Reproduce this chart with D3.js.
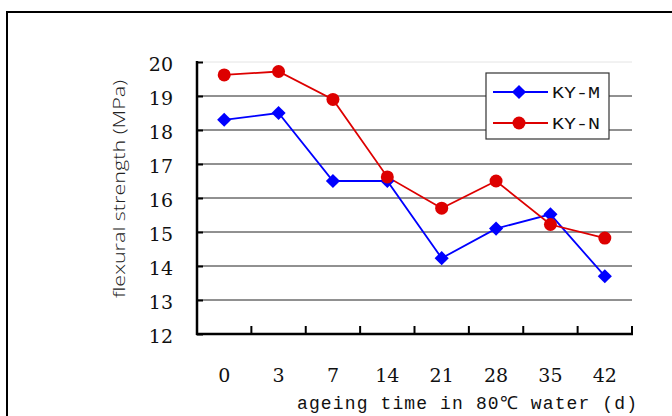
<!DOCTYPE html>
<html lang="en">
<head>
<meta charset="UTF-8">
<title>flexural strength</title>
<script src="https://d3js.org/d3.v7.min.js"></script>
<style>
	* { margin: 0; }
	body { width: 672px; height: 416px; background: #fff; overflow: hidden; }
	svg { display: block; }
</style>
</head>
<body>
<svg id="chart" width="672" height="416"></svg>
<script>
	// data
	const days = ["0", "3", "7", "14", "21", "28", "35", "42"];
	const kyM = [18.3, 18.5, 16.5, 16.5, 14.23, 15.1, 15.52, 13.7];
	const kyN = [19.62, 19.72, 18.9, 16.62, 15.7, 16.5, 15.22, 14.82];
	const yTicks = [12, 13, 14, 15, 16, 17, 18, 19, 20];

	const serif = "DejaVu Serif, serif";
	const mono = "Liberation Mono, DejaVu Sans Mono, monospace";

	const plotL = 197, plotR = 632, plotT = 62, plotB = 334;

	const svg = d3.select("#chart");

	// outer frame (runs off right and bottom)
	svg.append("path")
		.attr("d", "M7,420 V12 H680")
		.attr("fill", "none")
		.attr("stroke", "#000")
		.attr("stroke-width", 2);

	const x = d3.scaleBand().domain(days).range([plotL, plotR]);
	const y = d3.scaleLinear().domain([12, 20]).range([plotB, plotT]);

	// gridlines
	svg.append("g")
		.selectAll("line")
		.data(yTicks.slice(1))
		.join("line")
		.attr("x1", plotL).attr("x2", plotR)
		.attr("y1", d => y(d)).attr("y2", d => y(d))
		.attr("stroke", d => d === 20 ? "#e4e4e4" : "#222")
		.attr("stroke-width", 1);

	// y axis
	const yAxis = svg.append("g")
		.attr("transform", `translate(${plotL},0)`)
		.call(d3.axisRight(y).tickValues(yTicks).tickSize(6).tickFormat(""));
	yAxis.select(".domain").remove();
	yAxis.selectAll("line").attr("stroke", "#000").attr("stroke-width", 2);
	svg.append("line")
		.attr("x1", plotL).attr("x2", plotL)
		.attr("y1", plotT - 1).attr("y2", plotB + 1)
		.attr("stroke", "#000").attr("stroke-width", 2.5);

	svg.append("g")
		.selectAll("text")
		.data(yTicks)
		.join("text")
		.attr("x", 173)
		.attr("y", d => y(d) + 9)
		.attr("text-anchor", "end")
		.attr("font-family", serif)
		.attr("font-size", 19)
		.attr("fill", "#111")
		.text(d => d);

	// x axis with inward ticks at band edges
	const edges = days.map(d => x(d)).concat([plotR]);
	svg.append("g")
		.selectAll("line")
		.data(edges.slice(1))
		.join("line")
		.attr("x1", d => d).attr("x2", d => d)
		.attr("y1", plotB).attr("y2", plotB - 8)
		.attr("stroke", "#000").attr("stroke-width", 2);
	svg.append("line")
		.attr("x1", plotL - 1).attr("x2", plotR + 1)
		.attr("y1", plotB).attr("y2", plotB)
		.attr("stroke", "#000").attr("stroke-width", 2.5);

	svg.append("g")
		.selectAll("text")
		.data(days)
		.join("text")
		.attr("x", d => x(d) + x.bandwidth() / 2)
		.attr("y", 382)
		.attr("text-anchor", "middle")
		.attr("font-family", serif)
		.attr("font-size", 19)
		.attr("fill", "#111")
		.text(d => d);

	// axis titles
	svg.append("text")
		.attr("x", 297)
		.attr("y", 409)
		.attr("font-family", mono)
		.attr("font-size", 18)
		.attr("textLength", 340)
		.attr("lengthAdjust", "spacing")
		.attr("fill", "#111")
		.text("ageing time in 80℃ water (d)");

	svg.append("text")
		.attr("transform", "translate(125,189) rotate(-90)")
		.attr("text-anchor", "middle")
		.attr("font-family", "Open Sans, Noto Sans, sans-serif")
		.attr("font-weight", 300)
		.attr("font-size", 17)
		.attr("textLength", 218)
		.attr("lengthAdjust", "spacingAndGlyphs")
		.attr("fill", "#222")
		.text("flexural strength (MPa)");

	// series
	const cx = d => x(d) + x.bandwidth() / 2;
	const line = d3.line().x((d, i) => cx(days[i])).y(d => y(d));

	svg.append("path")
		.datum(kyM)
		.attr("d", line)
		.attr("fill", "none")
		.attr("stroke", "#0000ff")
		.attr("stroke-width", 1.8);
	svg.append("path")
		.datum(kyN)
		.attr("d", line)
		.attr("fill", "none")
		.attr("stroke", "#dd0000")
		.attr("stroke-width", 1.8);

	const diamond = d3.symbol().type(d3.symbolSquare).size(100);
	svg.append("g")
		.selectAll("path")
		.data(kyM)
		.join("path")
		.attr("d", diamond)
		.attr("transform", (d, i) => `translate(${cx(days[i])},${y(d)}) rotate(45)`)
		.attr("fill", "#0000ff");

	svg.append("g")
		.selectAll("circle")
		.data(kyN)
		.join("circle")
		.attr("cx", (d, i) => cx(days[i]))
		.attr("cy", d => y(d))
		.attr("r", 6.5)
		.attr("fill", "#dd0000");

	// legend
	const lg = svg.append("g");
	lg.append("rect")
		.attr("x", 486).attr("y", 73)
		.attr("width", 123).attr("height", 66)
		.attr("fill", "#fff")
		.attr("stroke", "#333")
		.attr("stroke-width", 1.2);
	const items = [
		{ name: "KY-M", color: "#0000ff", yy: 92, shape: "d" },
		{ name: "KY-N", color: "#dd0000", yy: 123, shape: "c" }
	];
	items.forEach(it => {
		lg.append("line")
			.attr("x1", 493).attr("x2", 548)
			.attr("y1", it.yy).attr("y2", it.yy)
			.attr("stroke", it.color).attr("stroke-width", 1.8);
		if (it.shape === "d") {
			lg.append("path")
				.attr("d", diamond)
				.attr("transform", `translate(519,${it.yy}) rotate(45)`)
				.attr("fill", it.color);
		} else {
			lg.append("circle")
				.attr("cx", 519).attr("cy", it.yy).attr("r", 6.5)
				.attr("fill", it.color);
		}
		lg.append("text")
			.attr("x", 552)
			.attr("y", it.yy + 6)
			.attr("font-family", mono)
			.attr("font-size", 17)
			.attr("textLength", 48)
			.attr("lengthAdjust", "spacingAndGlyphs")
			.attr("fill", "#111")
			.text(it.name);
	});
</script>
</body>
</html>
